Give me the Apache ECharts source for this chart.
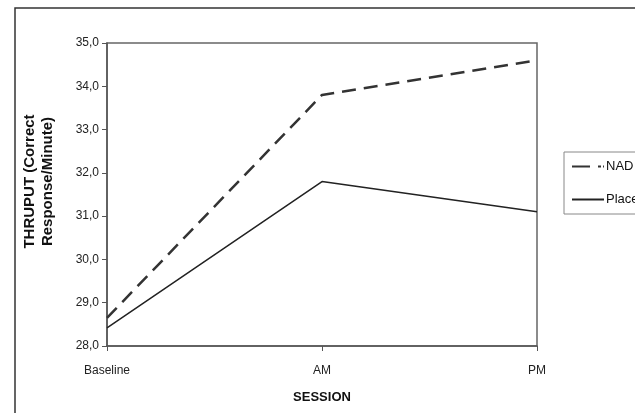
<!DOCTYPE html>
<html>
<head>
<meta charset="utf-8">
<script src="https://cdn.jsdelivr.net/npm/echarts@6/dist/echarts.min.js"></script>
<style>
  html, body { margin: 0; padding: 0; background: #fff; }
  #chart { width: 635px; height: 413px; }
</style>
</head>
<body>
<div id="chart"></div>
<script>
// sessions on the x axis
var sessions = ["Baseline", "AM", "PM"];
// throughput per session
var nadValues = [28.65, 33.8, 34.6];
var placeboValues = [28.42, 31.8, 31.1];
// y axis range
var yMin = 28;
var yMax = 35;
var yStep = 1;

var chart = echarts.init(document.getElementById("chart"));

chart.setOption({
  animation: false,
  backgroundColor: "#fff",
  graphic: [{
    // outer frame of the scanned figure
    type: "rect",
    shape: { x: 15, y: 8, width: 640, height: 420 },
    style: { fill: "none", stroke: "#333", lineWidth: 1.5 },
    silent: true
  }],
  grid: {
    left: 107,
    right: 98,
    top: 43,
    bottom: 67,
    show: true,
    borderColor: "#666",
    borderWidth: 1.5
  },
  legend: {
    orient: "vertical",
    left: 564,
    top: 152,
    padding: [8, 10, 8, 8],
    itemGap: 20,
    itemWidth: 32,
    itemHeight: 3,
    borderColor: "#888",
    borderWidth: 1,
    textStyle: { fontFamily: "Liberation Sans", fontSize: 13, color: "#111", padding: [0, 0, 0, -3] },
    data: [
      { name: "NAD", icon: "path://M0,0L18,0L18,2L0,2Z M26,0L29,0L29,2L26,2Z M31,0L32,0L32,2L31,2Z" },
      { name: "Placebo", icon: "path://M0,0L32,0L32,2L0,2Z" }
    ]
  },
  xAxis: {
    type: "category",
    data: sessions,
    boundaryGap: false,
    name: "SESSION",
    nameLocation: "middle",
    nameGap: 45,
    nameTextStyle: { fontFamily: "Liberation Sans", fontSize: 13, fontWeight: "bold", color: "#111" },
    axisLine: { lineStyle: { color: "#555", width: 1.5 } },
    axisTick: { show: true, inside: false, length: 5, lineStyle: { color: "#555" } },
    axisLabel: { fontFamily: "Liberation Sans", fontSize: 12, color: "#222", margin: 19 }
  },
  yAxis: {
    type: "value",
    min: yMin,
    max: yMax,
    interval: yStep,
    name: "THRUPUT (Correct\nResponse/Minute)",
    nameLocation: "middle",
    nameGap: 50,
    nameRotate: 90,
    nameTextStyle: {
      fontFamily: "Liberation Sans",
      fontSize: 15,
      fontWeight: "bold",
      color: "#111",
      lineHeight: 18,
      padding: [0, 0, 0, 26]
    },
    axisLine: { show: true, lineStyle: { color: "#555", width: 1.5 } },
    axisTick: { show: true, inside: false, length: 5, lineStyle: { color: "#555" } },
    splitLine: { show: false },
    axisLabel: {
      fontFamily: "Liberation Sans",
      fontSize: 12,
      color: "#222",
      margin: 8,
      formatter: function (v) { return v.toFixed(1).replace(".", ","); }
    }
  },
  series: [
    {
      name: "NAD",
      type: "line",
      data: nadValues,
      symbol: "none",
      itemStyle: { color: "#333" },
      lineStyle: { color: "#333", width: 2.5, type: [14, 8] }
    },
    {
      name: "Placebo",
      type: "line",
      data: placeboValues,
      symbol: "none",
      itemStyle: { color: "#222" },
      lineStyle: { color: "#222", width: 1.5 }
    }
  ]
});
</script>
</body>
</html>
